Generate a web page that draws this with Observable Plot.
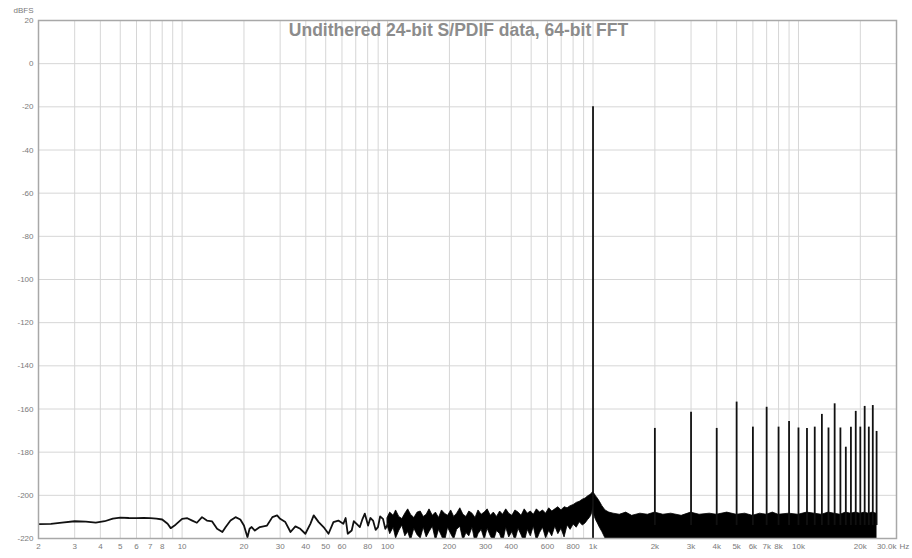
<!DOCTYPE html>
<html><head><meta charset="utf-8">
<script src="https://cdn.jsdelivr.net/npm/d3@7"></script>
<script src="https://cdn.jsdelivr.net/npm/@observablehq/plot@0.6"></script>
<style>html,body{margin:0;padding:0;background:#fff;} svg{display:block}</style>
</head><body><div id="chart"></div>
<script>
const title = "Undithered 24-bit S/PDIF data, 64-bit FFT";
const yUnit = "dBFS";

// Low-frequency trace (Hz, dBFS)
const traceF  = [2, 2.3, 2.6, 3, 3.4, 3.8, 4.2, 4.6, 5, 5.5, 6, 6.5, 7, 7.5, 8, 8.5, 8.8, 9.3, 10, 10.6, 11.2, 11.8, 12.5, 13.2, 14, 14.8, 15.7, 16.3, 17.2, 18.2, 19.2, 20, 20.8, 21.3, 21.8, 22.6, 23.9, 25.9, 27.5, 29, 30, 31.8, 33.7, 35.6, 37.6, 39.8, 42.1, 43.7, 46.2, 48.8, 51.6, 54.5, 57.6, 60.9, 62.5, 64, 66.9, 68.5, 70.7, 73.3, 75.5, 77.5, 80.4, 82.5, 85, 87.5, 89.8, 92, 95, 97.5, 100.5];
const traceDb = [-213.3, -213.2, -212.6, -212, -212.2, -212.6, -212.0, -210.8, -210.3, -210.5, -210.6, -210.5, -210.6, -210.8, -211.2, -213.2, -215.2, -213.6, -210.9, -210.6, -211.7, -212.7, -210.1, -211.7, -212.1, -215.5, -217, -214.7, -211.7, -210.1, -211.2, -214, -219.4, -215.5, -214.7, -216.3, -214.7, -214, -210.1, -209.3, -210.9, -212.4, -217, -214.4, -215.5, -217.8, -213.2, -209.3, -212.4, -214.7, -217.8, -212.4, -211.7, -213.2, -210.5, -217.8, -216.3, -212, -213.2, -214.7, -211, -208.5, -214, -210.5, -211.7, -216, -214.7, -209.8, -210.9, -215.5, -213.2];

// Noise band from 100 Hz to 24 kHz: upper and lower envelopes (dBFS)
const bandF  = [100, 103, 107, 110, 114, 118, 122, 126, 130, 135, 140, 145, 150, 155, 160, 166, 172, 178, 184, 190, 197, 204, 211, 218, 226, 234, 242, 250, 259, 268, 277, 287, 297, 307, 318, 329, 341, 353, 365, 378, 391, 405, 419, 434, 449, 465, 481, 498, 515, 533, 552, 571, 591, 612, 633, 655, 678, 702, 727, 752, 778, 805, 833, 862, 892, 920, 945, 965, 980, 992, 1000, 1008, 1020, 1035, 1055, 1080, 1110, 1150, 1200,
  1260, 1350, 1450, 1550, 1700, 1850, 2000, 2200, 2400, 2700, 3000, 3300, 3700, 4000, 4500, 5000, 5500, 6000, 6500, 7000, 7500, 8000, 9000, 10000, 11000, 12000, 13000, 14000, 15000, 16000, 17000, 18000, 19000, 20000, 21000, 22000, 23000, 24000];
const bandHi = [-210.5, -208, -209.5, -207, -210, -211, -208.5, -206.5, -209, -210.5, -208, -207.5, -210, -209, -206.5, -209.5, -208, -210.5, -207, -208.5, -209.5, -207, -210, -208.5, -206, -209, -210, -207.5, -208.5, -210.5, -207, -209, -208, -206.5, -209.5, -208, -210, -207.5, -209, -206.5, -208.5, -209.5, -207, -208, -209.5, -206.5, -208.5, -207.5, -209, -206.5, -208, -207, -208.5, -206, -207.5, -206.5, -205.5, -207, -205.5, -206, -205, -204.5, -203.5, -203, -202, -201.5, -200.5, -200, -199.5, -199, -198.5, -199, -199.5, -200.5, -201.5, -203, -205, -207, -208,
  -208.5, -209, -208, -209.5, -208.5, -209, -208, -209, -208.5, -209.5, -208, -209, -208.5, -209, -208, -209, -208.5, -209.5, -208.5, -209, -208, -209, -208.5, -209, -208, -208.5, -209, -208, -208.5, -209, -208, -208.5, -208, -208.5, -208, -208.5, -208, -208.5];
const bandLo = [-214, -218, -215, -220, -216.5, -214, -219, -217, -221, -215.5, -218.5, -220, -215, -219.5, -217, -214.5, -221, -216, -219, -222, -215, -218, -220.5, -216, -214.5, -221, -217.5, -219, -215, -222, -218, -216, -220.5, -215.5, -219, -221.5, -216.5, -218, -222, -215, -219.5, -217, -221, -215.5, -218.5, -222, -216, -219, -214.5, -221, -217.5, -215, -220, -216.5, -219, -214.5, -218, -215.5, -219.5, -214, -216, -213.5, -215, -212.5, -214, -213, -211.5, -210.5, -209.5, -208, -204, -208, -210, -211.5, -213, -215, -217, -220, -222,
  -222, -222, -222, -222, -222, -222, -222, -222, -222, -222, -222, -222, -222, -222, -222, -222, -222, -222, -222, -222, -222, -222, -222, -222, -222, -222, -222, -222, -222, -222, -222, -222, -222, -222, -222, -222, -222, -222];

// Fundamental and harmonics
const fundF = 1000;
const fundDb = -20;
const harmF  = [2000, 3000, 4000, 5000, 6000, 7000, 8000, 9000, 10000, 11000, 12000, 13000, 14000, 15000, 16000, 17000, 18000, 19000, 20000, 21000, 22000, 23000, 24000];
const harmDb = [-169, -161.5, -169, -156.8, -168.4, -159.2, -168.4, -165.8, -168.8, -169, -168.4, -162.5, -168.8, -157.6, -168.8, -177.7, -168.4, -161.1, -168.4, -158.8, -168.4, -158.4, -170.4];

// Axes
const gridF = [2, 3, 4, 5, 6, 7, 8, 9, 10, 20, 30, 40, 50, 60, 70, 80, 90, 100, 200, 300, 400, 500, 600, 700, 800, 900, 1000, 2000, 3000, 4000, 5000, 6000, 7000, 8000, 9000, 10000, 20000];
const xTicks  = [2, 3, 4, 5, 6, 7, 8, 10, 20, 30, 40, 50, 60, 80, 100, 200, 300, 400, 600, 800, 1000, 2000, 3000, 4000, 5000, 6000, 7000, 8000, 10000, 20000];
const xLabels = ["2", "3", "4", "5", "6", "7", "8", "10", "20", "30", "40", "50", "60", "80", "100", "200", "300", "400", "600", "800", "1k", "2k", "3k", "4k", "5k", "6k", "7k", "8k", "10k", "20k"];
const xEndF = 30000;
const xEndLabel = "30.0k";
const xUnit = "Hz";
const yTicks  = [20, 0, -20, -40, -60, -80, -100, -120, -140, -160, -180, -200, -220];
const yLabels = ["20", "0", "-20", "-40", "-60", "-80", "-100", "-120", "-140", "-160", "-180", "-200", "-220"];

const trace = traceF.map((f, i) => ({f, db: traceDb[i]}));
const band = bandF.map((f, i) => ({f, hi: bandHi[i], lo: bandLo[i]}));
const harm = harmF.map((f, i) => ({f, db: harmDb[i]}));
const xTickData = xTicks.map((f, i) => ({f, t: xLabels[i]}));
const yTickData = yTicks.map((v, i) => ({v, t: yLabels[i]}));

const gridColor = "#d6d6d6";
const textColor = "#7a7a7a";

const chart = Plot.plot({
  width: 912, height: 558,
  marginLeft: 38, marginRight: 16, marginTop: 20, marginBottom: 20,
  style: {fontFamily: "'Liberation Sans', Arial, sans-serif", fontSize: "8px", color: textColor, background: "#fff"},
  x: {type: "log", domain: [2, 30000], axis: null},
  y: {domain: [-220, 20], axis: null},
  marks: [
    Plot.ruleX(gridF, {stroke: gridColor, strokeWidth: 1}),
    Plot.ruleY(yTicks, {stroke: gridColor, strokeWidth: 1}),
    Plot.areaY(band, {x: "f", y1: "lo", y2: "hi", fill: "#000", stroke: "#000", strokeWidth: 0.8, clip: true}),
    Plot.line(trace, {x: "f", y: "db", stroke: "#111", strokeWidth: 1.8, clip: true}),
    Plot.ruleX(harm, {x: "f", y1: -214, y2: "db", stroke: "#111", strokeWidth: 1.8}),
    Plot.ruleX([fundF], {x: d => d, y1: -220, y2: fundDb, stroke: "#111", strokeWidth: 1.8}),
    Plot.frame({stroke: "#a8a8a8", strokeWidth: 1.5}),
    Plot.text(xTickData, {x: "f", y: () => -220, text: "t", lineAnchor: "top", dy: 5, fill: textColor}),
    Plot.text([{f: xEndF, t: xEndLabel}], {x: "f", y: () => -220, text: "t", textAnchor: "end", lineAnchor: "top", dy: 5, fill: textColor}),
    Plot.text([{f: xEndF, t: xUnit}], {x: "f", y: () => -220, text: "t", textAnchor: "start", lineAnchor: "top", dy: 5, dx: 3, fill: textColor}),
    Plot.text(yTickData, {x: () => 2, y: "v", text: "t", textAnchor: "end", dx: -5, fill: textColor}),
    Plot.text([yUnit], {frameAnchor: "top-left", dx: -5, dy: -8, textAnchor: "end", lineAnchor: "bottom", fill: textColor}),
    Plot.text([title], {frameAnchor: "top", dx: -9, dy: 3, lineAnchor: "top", fontSize: 17.5, fontWeight: "bold", fill: "#8c8c8c"})
  ]
});
document.getElementById("chart").append(chart);
</script>
</body></html>
